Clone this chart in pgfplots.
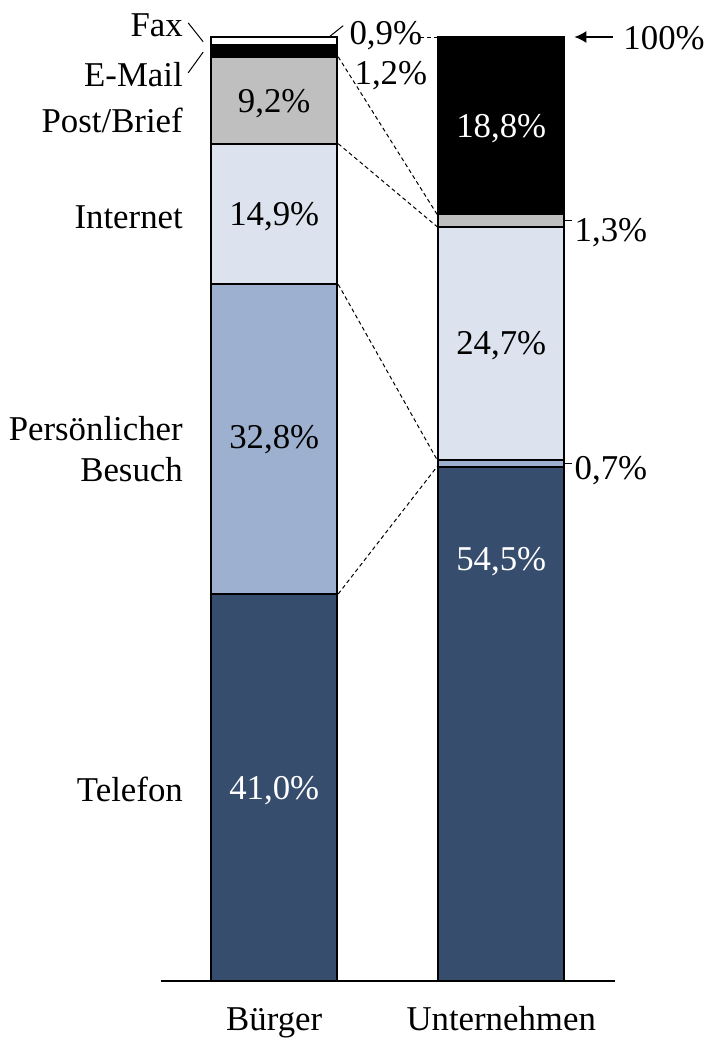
\documentclass[border=0pt]{standalone}
\usepackage{fontspec}
\setmainfont{Liberation Serif}
\usepackage{pgfplots}
\pgfplotsset{compat=1.18}
\usetikzlibrary{arrows.meta}

\definecolor{telefon}{HTML}{374D6E}
\definecolor{besuch}{HTML}{9DB0CF}
\definecolor{internet}{HTML}{DCE3EE}
\definecolor{post}{HTML}{BFBFBF}

\newcommand\lbl{\fontsize{17.4}{20.8}\selectfont}

\tikzset{
  txt/.style={inner sep=0pt, text depth=0pt, font=\lbl},
  lead/.style={line width=0.5pt},
  conn/.style={line width=0.5pt, dash pattern=on 2pt off 1.5pt}
}

\begin{document}
\begin{tikzpicture}[font=\lbl]
\path[use as bounding box] (0,0) rectangle (351.5pt,520.5pt);
\begin{axis}[
  at={(80.35pt,30pt)}, anchor=south west,
  scale only axis, width=227pt, height=472pt,
  xmin=-0.5, xmax=1.5, ymin=0, ymax=100,
  axis x line*=bottom, axis y line=none,
  x axis line style={line width=1pt},
  ybar stacked, bar width=63pt,
  xtick={0,1}, xticklabels={Bürger,Unternehmen},
  ytick=\empty, major tick length=0pt,
  xticklabel style={font=\lbl, anchor=base, yshift=-24.5pt, inner sep=0pt},
  clip=false,
  every axis plot/.append style={draw=black, line width=1pt},
]
% Telefon, Persoenlicher Besuch, Internet, Post/Brief, E-Mail, Fax
\addplot[fill=telefon]  coordinates {(0,41.0) (1,54.5)};
\addplot[fill=besuch]   coordinates {(0,32.8) (1,0.7)};
\addplot[fill=internet] coordinates {(0,14.9) (1,24.7)};
\addplot[fill=post]     coordinates {(0,9.2)  (1,1.3)};
\addplot[fill=black]    coordinates {(0,1.2)  (1,18.8)};
\addplot[fill=white]    coordinates {(0,0.9)  (1,0)};

% connecting lines between the bars
\draw[conn] (axis cs:0.282,97.9) -- (axis cs:0.718,81.2);
\draw[conn] (axis cs:0.282,88.7) -- (axis cs:0.718,79.9);
\draw[conn] (axis cs:0.282,73.8) -- (axis cs:0.718,55.2);
\draw[conn] (axis cs:0.282,41.0) -- (axis cs:0.718,54.5);
\draw[conn] (axis cs:0.643,100) -- (axis cs:0.718,100);

% anchor points for the values inside the bars
\coordinate (b1) at (axis cs:0,20.5);
\coordinate (b2) at (axis cs:0,57.6);
\coordinate (b3) at (axis cs:0,81.3);
\coordinate (b4) at (axis cs:0,93.2);
\coordinate (u1) at (axis cs:1,44.7);
\coordinate (u3) at (axis cs:1,67.6);
\coordinate (u5) at (axis cs:1,90.6);

% category names on the left
\node[txt, anchor=east] at (axis cs:-0.401,101.3) {Fax};
\node[txt, anchor=east] at (axis cs:-0.401,96.0) {E-Mail};
\node[txt, anchor=east] at (axis cs:-0.401,91.2) {Post/Brief};
\node[txt, anchor=east] at (axis cs:-0.401,80.9) {Internet};
\node[txt, anchor=east] at (axis cs:-0.401,58.5) {Persönlicher};
\node[txt, anchor=east] at (axis cs:-0.401,54.2) {Besuch};
\node[txt, anchor=east] at (axis cs:-0.401,20.3) {Telefon};
\draw[lead] (axis cs:-0.379,101.5) -- (axis cs:-0.313,99.5);
\draw[lead] (axis cs:-0.379,96.2) -- (axis cs:-0.313,98.4);

% small values on the right
\draw[lead] (axis cs:0.304,101.2) -- (axis cs:0.216,99.5);
\node[txt, anchor=west] at (axis cs:0.330,100.4) {0,9\%};
\node[txt, anchor=west, fill=white, inner sep=2pt] at (axis cs:0.335,96.2) {1,2\%};
\draw[lead] (axis cs:1.207,80.55) -- (axis cs:1.313,80.55);
\node[txt, anchor=west] at (axis cs:1.322,79.6) {1,3\%};
\draw[lead] (axis cs:1.207,54.85) -- (axis cs:1.313,54.85);
\node[txt, anchor=west] at (axis cs:1.322,54.4) {0,7\%};
\draw[line width=1pt, -{Latex[length=6pt,width=6pt]}] (axis cs:1.493,100) -- (axis cs:1.322,100);
\node[txt, anchor=west] at (axis cs:1.537,99.9) {100\%};
\end{axis}
\node[txt, text=white] at (b1) {41,0\%};
\node[txt] at (b2) {32,8\%};
\node[txt] at (b3) {14,9\%};
\node[txt] at (b4) {9,2\%};
\node[txt, text=white] at (u1) {54,5\%};
\node[txt] at (u3) {24,7\%};
\node[txt, text=white] at (u5) {18,8\%};
\end{tikzpicture}
\end{document}
